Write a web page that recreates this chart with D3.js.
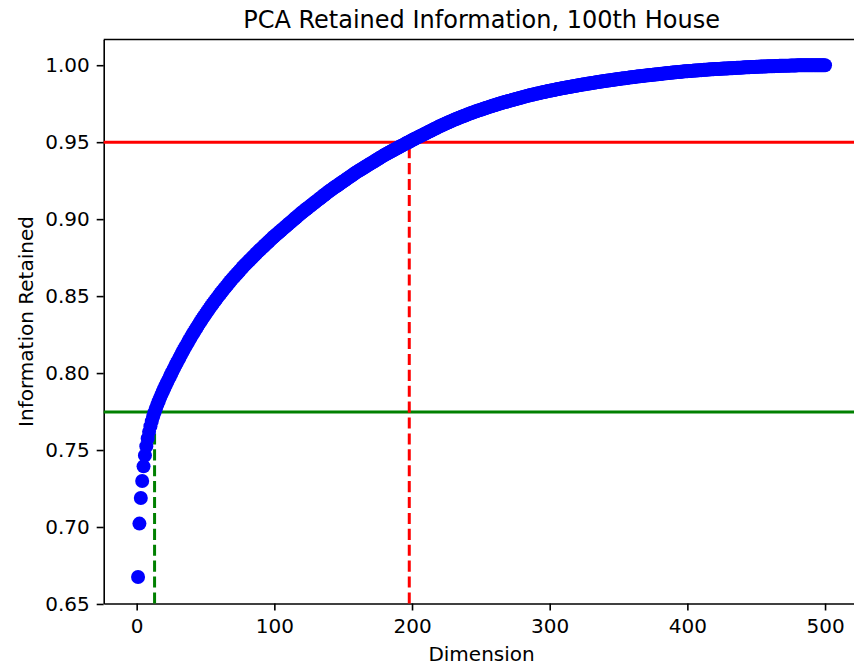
<!DOCTYPE html>
<html>
<head>
<meta charset="utf-8">
<script src="https://cdn.jsdelivr.net/npm/d3@7"></script>
<style>
    body { margin: 0; background: #fff; }
    svg { display: block; font-family: "DejaVu Sans", sans-serif; }
    .axis text { font-size: 20px; fill: #000; font-family: "DejaVu Sans", sans-serif; }
    .axis path, .axis line { stroke: #000; stroke-width: 1.6; }
</style>
</head>
<body>
<div id="chart"></div>
<script>
// cumulative information retained, one value per dimension (1..500)
let retained = [
    0.6675, 0.7022, 0.7188, 0.7299, 0.7394, 0.7465, 0.7525, 0.7575, 0.7618, 0.7655,
    0.7688, 0.7718, 0.7745, 0.7770, 0.7794, 0.7817, 0.7839, 0.7860, 0.7880, 0.7900,
    0.7919, 0.7938, 0.7956, 0.7975, 0.7993, 0.8011, 0.8029, 0.8047, 0.8064, 0.8081,
    0.8098, 0.8115, 0.8132, 0.8148, 0.8164, 0.8180, 0.8196, 0.8212, 0.8227, 0.8242,
    0.8257, 0.8272, 0.8287, 0.8301, 0.8315, 0.8329, 0.8343, 0.8357, 0.8370, 0.8383,
    0.8396, 0.8409, 0.8422, 0.8435, 0.8447, 0.8459, 0.8471, 0.8483, 0.8495, 0.8507,
    0.8519, 0.8530, 0.8541, 0.8552, 0.8563, 0.8574, 0.8585, 0.8596, 0.8607, 0.8617,
    0.8627, 0.8637, 0.8647, 0.8657, 0.8667, 0.8677, 0.8687, 0.8697, 0.8706, 0.8715,
    0.8724, 0.8733, 0.8742, 0.8751, 0.8760, 0.8769, 0.8778, 0.8787, 0.8796, 0.8804,
    0.8813, 0.8821, 0.8830, 0.8838, 0.8847, 0.8855, 0.8864, 0.8872, 0.8881, 0.8889,
    0.8897, 0.8904, 0.8912, 0.8920, 0.8927, 0.8935, 0.8943, 0.8951, 0.8958, 0.8966,
    0.8974, 0.8981, 0.8989, 0.8997, 0.9004, 0.9012, 0.9020, 0.9028, 0.9035, 0.9043,
    0.9050, 0.9057, 0.9064, 0.9071, 0.9078, 0.9085, 0.9092, 0.9099, 0.9106, 0.9113,
    0.9120, 0.9127, 0.9134, 0.9141, 0.9148, 0.9155, 0.9162, 0.9169, 0.9176, 0.9183,
    0.9189, 0.9195, 0.9202, 0.9208, 0.9214, 0.9220, 0.9226, 0.9233, 0.9239, 0.9245,
    0.9251, 0.9257, 0.9264, 0.9270, 0.9276, 0.9282, 0.9288, 0.9295, 0.9301, 0.9307,
    0.9312, 0.9318, 0.9323, 0.9329, 0.9334, 0.9340, 0.9345, 0.9351, 0.9356, 0.9362,
    0.9367, 0.9373, 0.9378, 0.9384, 0.9389, 0.9395, 0.9400, 0.9406, 0.9411, 0.9417,
    0.9422, 0.9427, 0.9431, 0.9436, 0.9441, 0.9446, 0.9451, 0.9455, 0.9460, 0.9465,
    0.9470, 0.9475, 0.9479, 0.9484, 0.9489, 0.9494, 0.9498, 0.9503, 0.9508, 0.9513,
    0.9517, 0.9522, 0.9526, 0.9531, 0.9535, 0.9540, 0.9544, 0.9549, 0.9553, 0.9558,
    0.9562, 0.9567, 0.9571, 0.9576, 0.9580, 0.9585, 0.9589, 0.9594, 0.9598, 0.9603,
    0.9607, 0.9611, 0.9615, 0.9619, 0.9623, 0.9627, 0.9631, 0.9635, 0.9639, 0.9643,
    0.9647, 0.9650, 0.9654, 0.9658, 0.9661, 0.9665, 0.9668, 0.9672, 0.9675, 0.9679,
    0.9682, 0.9686, 0.9689, 0.9692, 0.9695, 0.9699, 0.9702, 0.9705, 0.9708, 0.9711,
    0.9714, 0.9717, 0.9720, 0.9723, 0.9726, 0.9729, 0.9732, 0.9735, 0.9738, 0.9740,
    0.9743, 0.9746, 0.9749, 0.9751, 0.9754, 0.9757, 0.9759, 0.9762, 0.9764, 0.9767,
    0.9769, 0.9772, 0.9774, 0.9777, 0.9779, 0.9782, 0.9784, 0.9787, 0.9789, 0.9792,
    0.9794, 0.9796, 0.9799, 0.9801, 0.9803, 0.9806, 0.9808, 0.9810, 0.9812, 0.9814,
    0.9816, 0.9818, 0.9820, 0.9822, 0.9824, 0.9826, 0.9828, 0.9830, 0.9832, 0.9834,
    0.9836, 0.9837, 0.9839, 0.9841, 0.9843, 0.9845, 0.9846, 0.9848, 0.9850, 0.9852,
    0.9853, 0.9855, 0.9857, 0.9858, 0.9860, 0.9861, 0.9863, 0.9865, 0.9866, 0.9868,
    0.9869, 0.9871, 0.9873, 0.9874, 0.9876, 0.9877, 0.9879, 0.9880, 0.9882, 0.9883,
    0.9885, 0.9886, 0.9888, 0.9889, 0.9891, 0.9892, 0.9893, 0.9895, 0.9896, 0.9897,
    0.9899, 0.9900, 0.9901, 0.9903, 0.9904, 0.9905, 0.9906, 0.9908, 0.9909, 0.9910,
    0.9911, 0.9913, 0.9914, 0.9915, 0.9916, 0.9917, 0.9919, 0.9920, 0.9921, 0.9922,
    0.9923, 0.9924, 0.9926, 0.9927, 0.9928, 0.9929, 0.9930, 0.9931, 0.9932, 0.9933,
    0.9934, 0.9935, 0.9936, 0.9937, 0.9938, 0.9939, 0.9940, 0.9941, 0.9942, 0.9943,
    0.9944, 0.9945, 0.9946, 0.9947, 0.9948, 0.9949, 0.9950, 0.9951, 0.9952, 0.9953,
    0.9954, 0.9955, 0.9956, 0.9956, 0.9957, 0.9958, 0.9959, 0.9960, 0.9960, 0.9961,
    0.9962, 0.9963, 0.9963, 0.9964, 0.9965, 0.9966, 0.9966, 0.9967, 0.9968, 0.9968,
    0.9969, 0.9970, 0.9970, 0.9971, 0.9972, 0.9972, 0.9973, 0.9973, 0.9974, 0.9975,
    0.9975, 0.9976, 0.9976, 0.9977, 0.9977, 0.9978, 0.9978, 0.9979, 0.9979, 0.9980,
    0.9980, 0.9981, 0.9981, 0.9982, 0.9982, 0.9983, 0.9983, 0.9984, 0.9984, 0.9985,
    0.9985, 0.9986, 0.9986, 0.9987, 0.9987, 0.9988, 0.9988, 0.9989, 0.9989, 0.9990,
    0.9990, 0.9990, 0.9991, 0.9991, 0.9992, 0.9992, 0.9992, 0.9993, 0.9993, 0.9993,
    0.9994, 0.9994, 0.9994, 0.9995, 0.9995, 0.9995, 0.9996, 0.9996, 0.9996, 0.9996,
    0.9997, 0.9997, 0.9997, 0.9997, 0.9998, 0.9998, 0.9998, 0.9998, 0.9998, 0.9999,
    0.9999, 0.9999, 0.9999, 0.9999, 0.9999, 0.9999, 0.9999, 0.9999, 0.9999, 1.0000,
    1.0000, 1.0000, 1.0000, 1.0000, 1.0000, 1.0000, 1.0000, 1.0000, 1.0000, 1.0000
];

// threshold lines: horizontal level and the dimension where the curve reaches it
let thresholdLevels = [0.95, 0.7747];
let thresholdDims = [198, 13];
let thresholdColors = ["#ff0000", "#008000"];

let xTickValues = [0, 100, 200, 300, 400, 500];
let yTickValues = [0.65, 0.70, 0.75, 0.80, 0.85, 0.90, 0.95, 1.00];

let margin = {top: 39.5, left: 103.7};
let plotW = 755.7, plotH = 564;

let svg = d3.select("#chart").append("svg")
    .attr("width", 854)
    .attr("height", 666);

let g = svg.append("g")
    .attr("transform", "translate(" + margin.left + "," + margin.top + ")");

let points = retained.map((v, i) => ({dim: i + 1, value: v}));

let xScale = d3.scaleLinear()
    .domain([-23.95, 524.95])
    .range([0, plotW]);

let yScale = d3.scaleLinear()
    .domain([0.6503, 1.0167])
    .range([plotH, 0]);

// axes
g.append("g")
    .attr("class", "axis x-axis")
    .attr("transform", "translate(0," + plotH + ")")
    .call(d3.axisBottom(xScale)
        .tickValues(xTickValues)
        .tickFormat(d3.format("d"))
        .tickSizeInner(7).tickSizeOuter(0).tickPadding(8));

g.append("g")
    .attr("class", "axis y-axis")
    .call(d3.axisLeft(yScale)
        .tickValues(yTickValues)
        .tickFormat(d3.format(".2f"))
        .tickSizeInner(7).tickSizeOuter(0).tickPadding(7));

// top and right spines
g.append("line")
    .attr("x1", 0).attr("x2", plotW)
    .attr("y1", 0).attr("y2", 0)
    .attr("stroke", "#000").attr("stroke-width", 1.6);
g.append("line")
    .attr("x1", plotW).attr("x2", plotW)
    .attr("y1", 0).attr("y2", plotH)
    .attr("stroke", "#000").attr("stroke-width", 1.6);

// horizontal threshold lines
g.selectAll(".h-line")
    .data(thresholdLevels)
    .enter().append("line")
    .attr("class", "h-line")
    .attr("x1", 0).attr("x2", plotW)
    .attr("y1", d => yScale(d)).attr("y2", d => yScale(d))
    .attr("stroke", (d, i) => thresholdColors[i])
    .attr("stroke-width", 3);

// dashed vertical lines from the bottom up to the threshold
g.selectAll(".v-line")
    .data(thresholdDims)
    .enter().append("line")
    .attr("class", "v-line")
    .attr("x1", d => xScale(d)).attr("x2", d => xScale(d))
    .attr("y1", plotH)
    .attr("y2", (d, i) => yScale(thresholdLevels[i]))
    .attr("stroke", (d, i) => thresholdColors[i])
    .attr("stroke-width", 3)
    .attr("stroke-dasharray", "11.1,4.8");

// scatter
g.selectAll(".dot")
    .data(points)
    .enter().append("circle")
    .attr("class", "dot")
    .attr("cx", d => xScale(d.dim))
    .attr("cy", d => yScale(d.value))
    .attr("r", 7)
    .attr("fill", "#0000ff");

// labels
svg.append("text")
    .attr("x", margin.left + plotW / 2)
    .attr("y", 27.8)
    .attr("text-anchor", "middle")
    .style("font-size", "24px")
    .text("PCA Retained Information, 100th House");

svg.append("text")
    .attr("x", margin.left + plotW / 2)
    .attr("y", 661)
    .attr("text-anchor", "middle")
    .style("font-size", "20px")
    .text("Dimension");

svg.append("text")
    .attr("transform", "translate(33," + (margin.top + plotH / 2) + ") rotate(-90)")
    .attr("text-anchor", "middle")
    .style("font-size", "20px")
    .text("Information Retained");
</script>
</body>
</html>
